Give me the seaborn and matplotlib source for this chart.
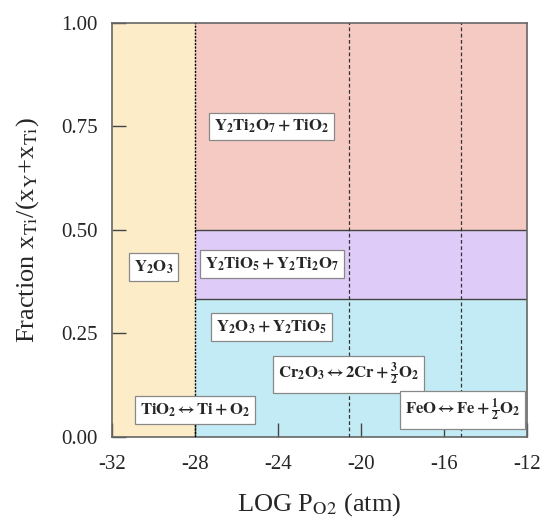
import numpy as np
import pandas as pd
import matplotlib
matplotlib.use("Agg")
import matplotlib.pyplot as plt
import seaborn as sns

# Phase-field boundaries (log pO2 in atm, Ti fraction)
x_limits = [-32, -12]
tio2_reduction = -28.0          # TiO2 <-> Ti + O2
cr2o3_reduction = -20.6         # Cr2O3 <-> 2Cr + 3/2 O2
feo_reduction = -15.2           # FeO <-> Fe + 1/2 O2
fraction_bounds = [0.0, 1/3, 0.5, 1.0]
field_colors = ["#c3ebf5", "#dfcbf8", "#f4cac3"]
low_po2_color = "#fdecc8"

field_labels = [
    r"$\mathbf{Y_2O_3 + Y_2TiO_5}$",
    r"$\mathbf{Y_2TiO_5 + Y_2Ti_2O_7}$",
    r"$\mathbf{Y_2Ti_2O_7 + TiO_2}$",
]
field_label_x = [-24.3, -24.3, -24.3]
field_label_y = [0.266, 0.418, 0.749]

reaction_labels = [
    r"$\mathbf{TiO_2 \leftrightarrow Ti + O_2}$",
    r"$\mathbf{Cr_2O_3 \leftrightarrow 2Cr + \frac{3}{2}O_2}$",
    r"$\mathbf{FeO \leftrightarrow Fe + \frac{1}{2}O_2}$",
]
reaction_label_x = [-28.0, -20.6, -15.1]
reaction_label_y = [0.065, 0.15, 0.065]

sns.set_theme(style="ticks")
plt.rcParams["font.family"] = ["Liberation Serif", "DejaVu Serif"]
plt.rcParams["mathtext.fontset"] = "stix"

fig = plt.figure(figsize=(5.43, 5.19), dpi=100)
ax = fig.add_axes([0.206, 0.158, 0.765, 0.798])

# Y2O3 single-phase field at low oxygen potential
ax.fill_between([x_limits[0], tio2_reduction], 0, 1, color=low_po2_color, lw=0, zorder=0)
# Two-phase fields above TiO2 stability
for lo, hi, c in zip(fraction_bounds[:-1], fraction_bounds[1:], field_colors):
    ax.fill_between([tio2_reduction, x_limits[1]], lo, hi, color=c, lw=0, zorder=0)

# Horizontal tie boundaries
for yb in fraction_bounds[1:3]:
    df = pd.DataFrame({"x": [tio2_reduction, x_limits[1]], "y": [yb, yb]})
    sns.lineplot(data=df, x="x", y="y", ax=ax, color="#444444", lw=1.0, zorder=2)

# Reduction lines
ax.axvline(tio2_reduction, color="black", lw=1.0, ls=(0, (1.5, 1)), zorder=3)
for xr in [cr2o3_reduction, feo_reduction]:
    ax.axvline(xr, color="#333333", lw=0.9, ls=(0, (3, 2)), zorder=3)

box = dict(boxstyle="square,pad=0.3", fc="white", ec="#888888", lw=0.9)
for t, x, y in zip(field_labels, field_label_x, field_label_y):
    ax.text(x, y, t, ha="center", va="center", fontsize=12, bbox=box, zorder=5)
ax.text(-30.0, 0.41, r"$\mathbf{Y_2O_3}$", ha="center", va="center", fontsize=12, bbox=box, zorder=5)
for t, x, y in zip(reaction_labels, reaction_label_x, reaction_label_y):
    ax.text(x, y, t, ha="center", va="center", fontsize=12, bbox=box, zorder=5)

ax.set_xlim(*x_limits)
ax.set_ylim(0, 1)
ax.set_xticks(np.arange(-32, -11, 4))
ax.set_xticklabels([f"{v:d}" for v in range(-32, -11, 4)])
ax.set_yticks([0, 0.25, 0.5, 0.75, 1.0])
ax.set_yticklabels(["0.00", "0.25", "0.50", "0.75", "1.00"])
ax.tick_params(direction="in", length=10, width=1, labelsize=15, color="#444444")
ax.tick_params(axis="y", pad=10)
ax.tick_params(axis="x", pad=13)
for s in ax.spines.values():
    s.set_color("#666666")
    s.set_linewidth(1.2)

ax.set_xlabel(r"LOG P$_{\mathrm{O2}}$ (atm)", fontsize=19, labelpad=12)
ax.set_ylabel(r"Fraction x$_{\mathrm{Ti}}$/(x$_{\mathrm{Y}}$+x$_{\mathrm{Ti}}$)", fontsize=19, labelpad=15)

fig.savefig("out.png", dpi=100)
